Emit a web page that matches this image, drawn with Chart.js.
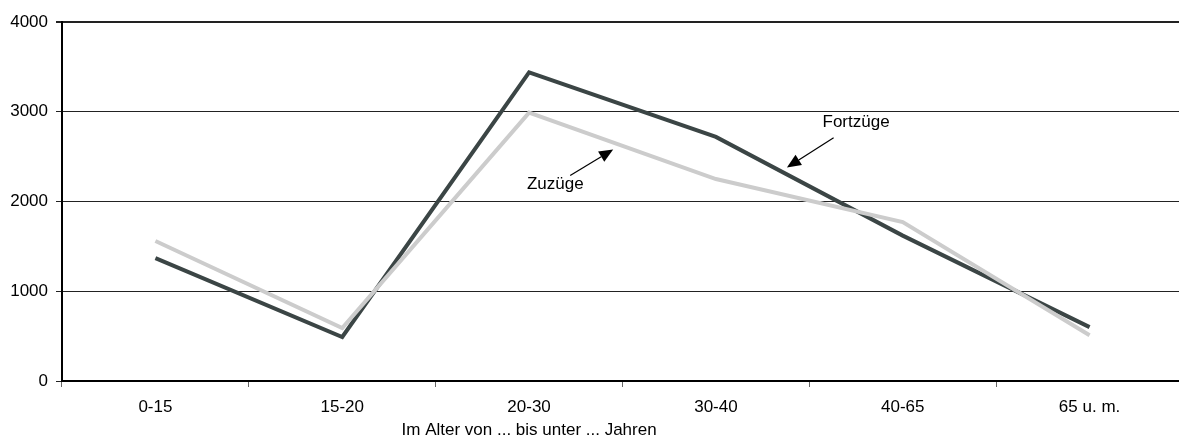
<!DOCTYPE html>
<html>
<head>
<meta charset="utf-8">
<script src="https://cdn.jsdelivr.net/npm/chart.js@4.4.1/dist/chart.umd.min.js"></script>
<style>
  html, body { margin:0; padding:0; background:#fff; overflow:hidden; }
  #wrap { width:1183px; height:446px; }
</style>
</head>
<body>
<div id="wrap"><canvas id="chart"></canvas></div>
<script>
'use strict';

const ageGroups = ['0-15', '15-20', '20-30', '30-40', '40-65', '65 u. m.'];
const fortzuege = [1370, 490, 3440, 2720, 1620, 600];
const zuzuege   = [1560, 590, 2990, 2250, 1770, 510];
const yTicks    = [0, 1000, 2000, 3000, 4000];
const xTitle    = 'Im Alter von ... bis unter ... Jahren';

const FONT = '"Liberation Sans", Arial, sans-serif';

// annotation positions in data units (category index, value)
const notes = [
  { text:'Zuzüge',   at:[2.14, 2190], from:[2.22, 2290], to:[2.45, 2580] },
  { text:'Fortzüge', at:[3.75, 2880], from:[3.63, 2710], to:[3.38, 2380] },
];

const arrowNotes = {
  id: 'arrowNotes',
  afterDatasetsDraw(chart) {
    const { ctx, scales:{ x, y } } = chart;
    const px = v => x.getPixelForValue(v);
    ctx.save();
    ctx.fillStyle = '#000';
    ctx.strokeStyle = '#000';
    ctx.font = '17px ' + FONT;
    ctx.textAlign = 'center';
    ctx.textBaseline = 'middle';
    for (const n of notes) {
      ctx.fillText(n.text, px(n.at[0]), y.getPixelForValue(n.at[1]));
      const x1 = px(n.from[0]), y1 = y.getPixelForValue(n.from[1]);
      const x2 = px(n.to[0]),   y2 = y.getPixelForValue(n.to[1]);
      const ang = Math.atan2(y2 - y1, x2 - x1);
      const head = 14, half = 6;
      const bx = x2 - head * Math.cos(ang), by = y2 - head * Math.sin(ang);
      ctx.lineWidth = 1.2;
      ctx.beginPath(); ctx.moveTo(x1, y1); ctx.lineTo(bx, by); ctx.stroke();
      ctx.beginPath();
      ctx.moveTo(x2, y2);
      ctx.lineTo(bx + half * Math.sin(ang), by - half * Math.cos(ang));
      ctx.lineTo(bx - half * Math.sin(ang), by + half * Math.cos(ang));
      ctx.closePath(); ctx.fill();
    }
    // axis title sits under the middle category label, as in the original
    ctx.fillText(xTitle, px(2), x.bottom - 16);
    ctx.restore();
  }
};

new Chart(document.getElementById('chart'), {
  type: 'line',
  data: {
    labels: ageGroups,
    datasets: [
      { label:'Zuzüge', data:zuzuege, borderColor:'#cccccc', borderWidth:4, pointRadius:0, tension:0 },
      { label:'Fortzüge', data:fortzuege, borderColor:'#3b4545', borderWidth:4, pointRadius:0, tension:0 },
    ],
  },
  options: {
    responsive: true,
    maintainAspectRatio: false,
    animation: false,
    layout: { padding:{ top:22, right:0, bottom:0, left:0 } },
    plugins: { legend:{ display:false }, tooltip:{ enabled:false } },
    scales: {
      x: {
        offset: true,
        grid: { offset:true, drawOnChartArea:false, tickLength:6, color:'#666', lineWidth:1 },
        border: { color:'#000', width:2 },
        ticks: { color:'#000', padding:10, font:{ family:FONT, size:17 } },
        afterFit: s => { s.height = 65; },
      },
      y: {
        min: 0, max: 4000,
        afterBuildTicks: s => { s.ticks = yTicks.map(v => ({ value:v })); },
        grid: { color:'#222', lineWidth: c => c.tick && c.tick.value === 4000 ? 2 : 1, tickLength:6 },
        border: { color:'#000', width:2 },
        ticks: { color:'#000', padding:8, font:{ family:FONT, size:17 }, callback: v => String(v) },
        afterFit: s => { s.width = 62; },
      },
    },
  },
  plugins: [arrowNotes],
});
</script>
</body>
</html>
